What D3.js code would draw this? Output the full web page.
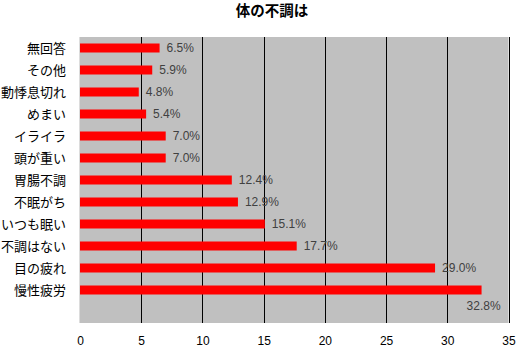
<!DOCTYPE html>
<html><head><meta charset="utf-8">
<script src="https://cdn.jsdelivr.net/npm/d3@7"></script>
<style>
html,body{margin:0;padding:0;background:#fff;}
svg{display:block;}
</style></head>
<body>
<svg id="chart" width="516" height="349"></svg>
<script>
const title = "体の不調は";
const categories = ["無回答","その他","動悸息切れ","めまい","イライラ","頭が重い","胃腸不調","不眠がち","いつも眠い","不調はない","目の疲れ","慢性疲労"];
const values = [6.5,5.9,4.8,5.4,7.0,7.0,12.4,12.9,15.1,17.7,29.0,32.8];
const tickValues = [0,5,10,15,20,25,30,35];

(function(){
const svg = d3.select("#chart");
const pL = 80, pR = 508.5, pT = 37, pB = 323;

const x = d3.scaleLinear().domain([0,35]).range([pL,pR]);
// 13 bands: the last one is an empty slot at the bottom
const y = d3.scaleBand().domain([...categories, ""]).range([pT,pB]).paddingInner(0).paddingOuter(0);
const barH = 9;

svg.append("rect").attr("x",pL).attr("y",pT).attr("width",pR-pL).attr("height",pB-pT).attr("fill","#c0c0c0");

svg.append("g").selectAll("line").data(tickValues.filter(d=>d>0)).join("line")
  .attr("x1",d=>Math.round(x(d))+0.5).attr("x2",d=>Math.round(x(d))+0.5)
  .attr("y1",pT).attr("y2",pB).attr("stroke","#000").attr("stroke-width",1);

svg.append("line").attr("x1",pL-0.5).attr("x2",pL-0.5).attr("y1",pT).attr("y2",pB)
  .attr("stroke","#dcdcdc").attr("stroke-width",1);

svg.append("g").selectAll("rect").data(values).join("rect")
  .attr("x",x(0))
  .attr("y",(d,i)=>y(categories[i]) + y.bandwidth()/2 - barH/2)
  .attr("width",d=>x(d)-x(0))
  .attr("height",barH)
  .attr("fill","#ff0000");

svg.append("g").selectAll("text").data(values).join("text")
  .attr("x",(d,i)=> i===values.length-1 ? x(d)+2 : x(d)+7)
  .attr("y",(d,i)=> y(categories[i]) + y.bandwidth()/2 + (i===values.length-1 ? 16 : 0))
  .attr("dy","0.35em")
  .attr("text-anchor",(d,i)=> i===values.length-1 ? "middle" : "start")
  .attr("font-family","'Liberation Sans', Arial, sans-serif")
  .attr("font-size","12px")
  .attr("fill","#404040")
  .text(d=>d.toFixed(1)+"%");

svg.append("g").selectAll("text").data(categories).join("text")
  .attr("x",66)
  .attr("y",d=>y(d)+y.bandwidth()/2)
  .attr("dy","0.36em")
  .attr("text-anchor","end")
  .attr("font-family","'Noto Sans CJK JP', sans-serif")
  .attr("font-size","13px")
  .attr("fill","#000")
  .text(d=>d);

const xAxis = d3.axisBottom(x).tickValues(tickValues).tickSize(0).tickPadding(0).tickFormat(d3.format("d"));
const gx = svg.append("g").attr("transform",`translate(0,${pB})`).call(xAxis);
gx.select(".domain").remove();
gx.selectAll("text").attr("y",17.5).attr("dy","0.35em")
  .attr("font-family","'Liberation Sans', Arial, sans-serif").attr("font-size","12px").attr("fill","#000");

svg.append("text").attr("x",272).attr("y",15.5).attr("text-anchor","middle")
  .attr("font-family","'Noto Sans CJK JP', sans-serif").attr("font-weight","bold").attr("font-size","14.5px")
  .attr("fill","#000").text(title);
})();
</script>
</body></html>
